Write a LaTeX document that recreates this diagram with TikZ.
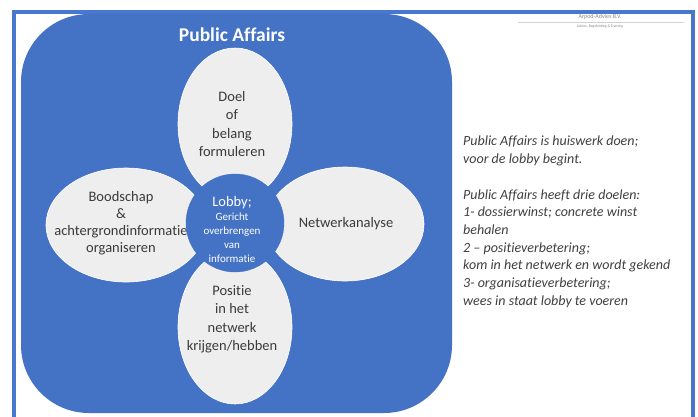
\documentclass[tikz,border=0pt]{standalone}
\usepackage{fontspec}
\setmainfont{Carlito}[Ligatures=NoCommon]
\usetikzlibrary{shapes.geometric}
\definecolor{paBlue}{HTML}{4472C4}
\definecolor{paFrame}{HTML}{4878CE}
\definecolor{petal}{HTML}{EEEEEE}
\definecolor{petalText}{HTML}{3A3A3A}
\definecolor{noteText}{HTML}{404040}
\definecolor{headGray}{HTML}{8A8A8A}
\tikzset{
  petalnode/.style={ellipse, fill=petal, draw=white, line width=0.6pt, inner sep=0pt},
  petaltext/.style={text=petalText, align=center, font=\fontsize{14.5}{18.5}\selectfont},
  hubnode/.style={circle, fill=paBlue, draw=paBlue, inner sep=0pt, minimum size=98pt},
  notetext/.style={anchor=north west, align=left, text=noteText,
    font=\itshape\fontsize{14}{17.7}\selectfont, inner sep=0pt},
}
\begin{document}
\begin{tikzpicture}[x=1pt, y=-1pt]
  \useasboundingbox (0,0) rectangle (698,416);
  \clip (0,0) rectangle (698,416);
  \fill[white] (0,0) rectangle (698,416);
  % outer frame, open past the lower edge
  \draw[paFrame, line width=4pt] (14,440) -- (14,12) -- (693,12) -- (693,440);
  % main rounded panel
  \fill[paBlue, rounded corners=68pt] (21,14) rectangle (452,413);
  \node[text=white, font=\bfseries\fontsize{19.5}{22}\selectfont] (title) at (232,35) {Public Affairs};
  % the four petals
  \node[petalnode, minimum width=114pt, minimum height=152pt] (top) at (235,124) {};
  \node[petalnode, minimum width=114pt, minimum height=154pt] (bottom) at (235,327) {};
  \node[petalnode, minimum width=160pt, minimum height=114pt] (left) at (126,225) {};
  \node[petalnode, minimum width=158pt, minimum height=114pt] (right) at (345,224) {};
  \node[petaltext] (toptxt) at (232,124) {Doel\\of\\belang\\formuleren};
  \node[petaltext] (bottomtxt) at (232,319) {Positie\\in het\\netwerk\\krijgen/hebben};
  \node[petaltext, font=\fontsize{14.5}{17}\selectfont] (lefttxt) at (121,223)
    {Boodschap\\\&\\achtergrondinformatie\\organiseren};
  \node[petaltext] (righttxt) at (346,224) {Netwerkanalyse};
  % central hub
  \node[hubnode] (hub) at (235,223) {};
  \node[text=white, align=center, font=\fontsize{11}{14}\selectfont] (hubtxt) at (232,229)
    {{\fontsize{14.5}{16}\selectfont Lobby;}\\Gericht\\overbrengen\\van\\informatie};
  % notes on the right
  \node[notetext] (note) at (463,136)
    {Public Affairs is huiswerk doen;\\voor de lobby begint.\\[17.7pt]
     Public Affairs heeft drie doelen:\\1- dossierwinst; concrete winst\\behalen\\
     2 -- positieverbetering;\\kom in het netwerk en wordt gekend\\
     3- organisatieverbetering;\\wees in staat lobby te voeren};
  % letterhead
  \node[text=headGray, font=\fontsize{6}{6.5}\selectfont] (firm) at (600,16.5) {Arpod-Advies B.V.};
  \coordinate (ruleL) at (518,22);
  \coordinate (ruleR) at (684,22);
  \draw[gray!35, line width=0.6pt] (ruleL) -- (ruleR);
  \node[text=headGray, font=\fontsize{3.8}{4}\selectfont] (tagline) at (600,27) {Advies, Begeleiding \& Training};
\end{tikzpicture}
\end{document}
